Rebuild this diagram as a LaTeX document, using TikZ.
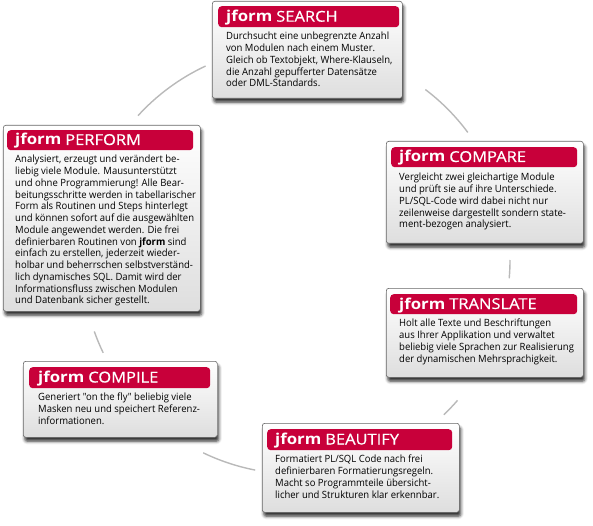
\documentclass[tikz,border=0pt]{standalone}
\usepackage{fontspec}
\setmainfont{Open Sans}
\newfontfamily\bfont{Open Sans}[FakeStretch=0.95]
\newfontfamily\hfont{Open Sans}[FakeStretch=1.12]
\newfontfamily\hsemi{Open Sans}[FakeStretch=1.1, FakeBold=0.6]
\usetikzlibrary{shadows.blur}
\definecolor{jred}{RGB}{200,0,58}
\definecolor{arcgray}{RGB}{185,185,185}
\newcommand{\jhead}[1]{{\hfont\bfseries jform} {\hsemi #1}}
\begin{document}
\begin{tikzpicture}[x=1pt,y=-1pt,
  panel/.style={draw=black!60, line width=0.6pt, rounded corners=2.5pt, top color=white, bottom color=black!13, inner sep=0pt, anchor=north west,
    blur shadow={shadow xshift=1.5pt, shadow yshift=-4pt, shadow blur radius=3pt, shadow opacity=80}},
  header/.style={fill=jred, rounded corners=3.5pt, inner sep=0pt, anchor=north west},
  htext/.style={anchor=base west, inner sep=0pt, text=white, font=\fontsize{15}{17}\selectfont},
  body/.style={anchor=north west, inner sep=0pt, align=left, font=\bfont\fontsize{10}{11.75}\selectfont},
  ring/.style={draw=arcgray, line width=1.4pt}
]
\path[use as bounding box] (0,0) rectangle (593,526);
\coordinate (c) at (296,260);
% ring segments
\draw[ring] ([shift={(-115:214)}]c) arc[start angle=-115, end angle=-137.6, radius=214];
\draw[ring] ([shift={(-52.8:214)}]c) arc[start angle=-52.8, end angle=-36.6, radius=214];
\draw[ring] ([shift={(0:214)}]c) arc[start angle=0, end angle=4.9, radius=214];
\draw[ring] ([shift={(41:214)}]c) arc[start angle=41, end angle=46.3, radius=214];
\draw[ring] ([shift={(101:214)}]c) arc[start angle=101, end angle=115.7, radius=214];
\draw[ring] ([shift={(154.3:214)}]c) arc[start angle=154.3, end angle=160.5, radius=214];

% SEARCH
\node[panel, minimum width=190pt, minimum height=97pt] (search) at (212,1) {};
\node[header, minimum width=181pt, minimum height=21pt] (searchH) at (218,6) {};
\node[htext] (searchT) at (226,21.7) {\jhead{SEARCH}};
\node[body] (searchB) at (226,32) {Durchsucht eine unbegrenzte Anzahl\\
von Modulen nach einem Muster.\\
Gleich ob Textobjekt, Where-Klauseln,\\
die Anzahl gepufferter Datensätze\\
oder DML-Standards.};

% PERFORM
\node[panel, minimum width=197pt, minimum height=186pt] (perform) at (3,125) {};
\node[header, minimum width=186pt, minimum height=20pt] (performH) at (7,130) {};
\node[htext] (performT) at (15,145) {\jhead{PERFORM}};
\node[body] (performB) at (15,155) {Analysiert, erzeugt und verändert be-\\
liebig viele Module. Mausunterstützt\\
und ohne Programmierung! Alle Bear-\\
beitungsschritte werden in tabellarischer\\
Form als Routinen und Steps hinterlegt\\
und können sofort auf die ausgewählten\\
Module angewendet werden. Die frei\\
definierbaren Routinen von \textbf{jform} sind\\
einfach zu erstellen, jederzeit wieder-\\
holbar und beherrschen selbstverständ-\\
lich dynamisches SQL. Damit wird der\\
Informationsfluss zwischen Modulen\\
und Datenbank sicher gestellt.};

% COMPARE
\node[panel, minimum width=197pt, minimum height=102pt] (compare) at (386,141) {};
\node[header, minimum width=186pt, minimum height=20pt] (compareH) at (391,147) {};
\node[htext] (compareT) at (399,162) {\jhead{COMPARE}};
\node[body] (compareB) at (399,173) {Vergleicht zwei gleichartige Module\\
und prüft sie auf ihre Unterschiede.\\
PL/SQL-Code wird dabei nicht nur\\
zeilenweise dargestellt sondern state-\\
ment-bezogen analysiert.};

% TRANSLATE
\node[panel, minimum width=197pt, minimum height=89pt] (translate) at (386,288) {};
\node[header, minimum width=187pt, minimum height=20pt] (translateH) at (390,294) {};
\node[htext] (translateT) at (399,309) {\jhead{TRANSLATE}};
\node[body] (translateB) at (399,319) {Holt alle Texte und Beschriftungen\\
aus Ihrer Applikation und verwaltet\\
beliebig viele Sprachen zur Realisierung\\
der dynamischen Mehrsprachigkeit.};

% COMPILE
\node[panel, minimum width=194pt, minimum height=76pt] (compile) at (23,361) {};
\node[header, minimum width=181pt, minimum height=21pt] (compileH) at (29,367) {};
\node[htext] (compileT) at (38,382.5) {\jhead{COMPILE}};
\node[body] (compileB) at (38,393) {Generiert "on the fly" beliebig viele\\
Masken neu und speichert Referenz-\\
informationen.};

% BEAUTIFY
\node[panel, minimum width=197pt, minimum height=89pt] (beautify) at (262,423) {};
\node[header, minimum width=185pt, minimum height=21pt] (beautifyH) at (267,429) {};
\node[htext] (beautifyT) at (275,444.5) {\jhead{BEAUTIFY}};
\node[body] (beautifyB) at (275,455) {Formatiert PL/SQL Code nach frei\\
definierbaren Formatierungsregeln.\\
Macht so Programmteile übersicht-\\
licher und Strukturen klar erkennbar.};
\end{tikzpicture}
\end{document}
